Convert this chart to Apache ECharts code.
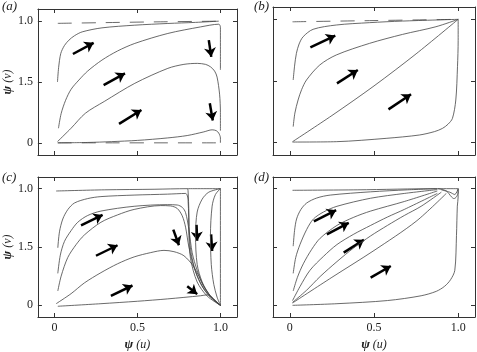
<!DOCTYPE html>
<html>
<head>
<meta charset="utf-8">
<script src="https://cdn.jsdelivr.net/npm/echarts@6/dist/echarts.min.js"></script>
<style>
  html, body { margin: 0; padding: 0; background: #fff; }
  #chart { width: 477px; height: 352px; }
</style>
</head>
<body>
<div id="chart"></div>
<script>
// tick positions and labels (the middle y label reads 1.5 in the source figure)
const tickValues = [0, 0.5, 1];
const xTickLabels = ['0', '0.5', '1.0'];
const yTickLabels = ['0', '1.5', '1.0'];
const panelNames = ['(a)', '(b)', '(c)', '(d)'];

// panel (a) trajectories, [psi(u), psi(v)]
const aTop = [[0.02, 0.982], [0.3, 0.988], [0.6, 0.994], [1.0, 1.0]];
const aBottom = [[0.02, 0.0], [1.0, 0.0]];
const a1 = [[0.018, 0.5], [0.025, 0.62], [0.038, 0.735], [0.06, 0.8], [0.087, 0.844], [0.12, 0.88], [0.167, 0.912], [0.286, 0.945], [0.484, 0.967], [0.683, 0.981], [0.85, 0.99], [0.99, 1.0]];
const a2 = [[0.024, 0.12], [0.04, 0.24], [0.067, 0.35], [0.1, 0.44], [0.147, 0.516], [0.2, 0.59], [0.286, 0.68], [0.38, 0.755], [0.484, 0.817], [0.683, 0.899], [0.881, 0.953], [0.99, 0.975], [1.0, 0.95], [1.0, 0.6]];
const a3 = [[0.018, 0.01], [0.1, 0.12], [0.186, 0.243], [0.3, 0.34], [0.484, 0.489], [0.683, 0.612], [0.78, 0.645], [0.861, 0.653], [0.91, 0.645], [0.94, 0.625], [0.965, 0.59], [0.98, 0.54], [0.995, 0.4], [1.0, 0.25], [1.0, 0.1]];
const a4 = [[0.02, 0.0], [0.2, 0.003], [0.345, 0.01], [0.5, 0.02], [0.68, 0.04], [0.8, 0.06], [0.9, 0.09], [0.95, 0.107], [0.975, 0.1], [0.99, 0.08], [1.0, 0.04], [1.0, 0.0]];
const aArrows = [
  [[0.111, 0.730], [0.236, 0.822]],
  [[0.296, 0.475], [0.425, 0.571]],
  [[0.389, 0.156], [0.524, 0.27]],
  [[0.930, 0.844], [0.945, 0.707]],
  [[0.936, 0.325], [0.954, 0.183]]
];

// panel (b)
const bTop = [[0.016, 0.98], [0.5, 0.99], [1.0, 1.0]];
const b1 = [[0.02, 0.508], [0.028, 0.62], [0.039, 0.724], [0.055, 0.8], [0.079, 0.859], [0.138, 0.919], [0.276, 0.954], [0.473, 0.973], [0.67, 0.986], [1.0, 1.0]];
const b2 = [[0.02, 0.13], [0.03, 0.24], [0.049, 0.346], [0.07, 0.43], [0.099, 0.508], [0.178, 0.63], [0.276, 0.711], [0.473, 0.805], [0.67, 0.878], [0.868, 0.94], [1.0, 1.0]];
const b3 = [[0.016, 0.008], [0.25, 0.22], [0.5, 0.46], [0.75, 0.72], [1.0, 1.0]];
const b4 = [[0.016, 0.005], [0.276, 0.008], [0.572, 0.035], [0.769, 0.062], [0.86, 0.09], [0.907, 0.116], [0.94, 0.15], [0.966, 0.197], [0.986, 0.346], [0.996, 0.616], [1.0, 0.83], [1.0, 1.0]];
const bArrows = [
  [[0.122, 0.773], [0.270, 0.868]],
  [[0.280, 0.481], [0.404, 0.589]],
  [[0.586, 0.270], [0.720, 0.392]]
];

// panel (c)
const cTop = [[0.01, 0.98], [0.3, 0.99], [0.6, 0.995], [0.8, 1.0], [0.805, 0.98], [0.81, 0.8], [0.815, 0.55], [0.83, 0.4], [0.86, 0.25], [0.9, 0.14], [0.95, 0.06], [1.0, 0.0]];
const c1 = [[0.02, 0.493], [0.03, 0.63], [0.05, 0.74], [0.08, 0.82], [0.12, 0.877], [0.2, 0.915], [0.28, 0.932], [0.48, 0.945], [0.68, 0.953], [0.79, 0.959], [0.805, 0.9], [0.81, 0.6], [0.82, 0.4], [0.86, 0.2], [0.92, 0.08], [1.0, 0.0]];
const c2 = [[0.02, 0.274], [0.035, 0.43], [0.06, 0.548], [0.1, 0.64], [0.14, 0.712], [0.2, 0.77], [0.28, 0.808], [0.48, 0.849], [0.68, 0.863], [0.74, 0.86], [0.77, 0.84], [0.79, 0.795], [0.81, 0.65], [0.83, 0.45], [0.86, 0.3], [0.9, 0.16], [0.95, 0.06], [1.0, 0.0]];
const c3 = [[0.02, 0.123], [0.04, 0.25], [0.08, 0.41], [0.13, 0.52], [0.18, 0.603], [0.28, 0.712], [0.38, 0.775], [0.48, 0.822], [0.64, 0.855], [0.7, 0.852], [0.74, 0.83], [0.77, 0.767], [0.79, 0.67], [0.81, 0.5], [0.84, 0.33], [0.88, 0.192], [0.92, 0.1], [0.96, 0.045], [1.0, 0.0]];
const c4 = [[0.01, 0.014], [0.1, 0.1], [0.18, 0.192], [0.28, 0.28], [0.38, 0.356], [0.48, 0.415], [0.58, 0.452], [0.66, 0.471], [0.72, 0.46], [0.78, 0.425], [0.84, 0.329], [0.9, 0.164], [0.94, 0.08], [1.0, 0.0]];
const c5 = [[0.02, -0.008], [0.28, 0.014], [0.5, 0.035], [0.68, 0.055], [0.88, 0.082], [0.92, 0.09], [0.96, 0.05], [1.0, 0.0]];
const c6 = [[0.8, 1.0], [1.0, 1.0]];
const c7 = [[1.0, 1.0], [0.93, 0.97], [0.89, 0.91], [0.86, 0.8], [0.85, 0.6], [0.86, 0.35], [0.89, 0.2], [0.93, 0.1], [0.97, 0.04], [1.0, 0.0]];
const c8 = [[1.0, 1.0], [0.97, 0.95], [0.95, 0.85], [0.94, 0.6], [0.945, 0.35], [0.96, 0.18], [0.98, 0.07], [1.0, 0.0]];
const c9 = [[1.0, 1.0], [1.0, 0.0]];
const cArrows = [
  [[0.16, 0.685], [0.29, 0.775]],
  [[0.25, 0.425], [0.38, 0.515]],
  [[0.34, 0.082], [0.47, 0.170]],
  [[0.716, 0.649], [0.75, 0.515]],
  [[0.856, 0.69], [0.86, 0.553]],
  [[0.944, 0.608], [0.95, 0.466]],
  [[0.8, 0.164], [0.86, 0.096]]
];

// panel (d)
const dTop = [[0.016, 0.986], [0.4, 0.99], [0.876, 1.0], [1.0, 1.0]];
const d1 = [[0.02, 0.507], [0.028, 0.64], [0.04, 0.74], [0.065, 0.82], [0.1, 0.877], [0.16, 0.92], [0.24, 0.945], [0.48, 0.973], [0.7, 0.99], [0.876, 1.0]];
const d2 = [[0.02, 0.274], [0.035, 0.41], [0.06, 0.52], [0.1, 0.65], [0.14, 0.74], [0.2, 0.8], [0.28, 0.849], [0.48, 0.918], [0.68, 0.959], [0.876, 0.992]];
const d3 = [[0.02, 0.123], [0.045, 0.24], [0.08, 0.356], [0.13, 0.48], [0.18, 0.575], [0.28, 0.685], [0.38, 0.755], [0.48, 0.808], [0.68, 0.89], [0.876, 0.98]];
const d4 = [[0.016, 0.04], [0.06, 0.16], [0.12, 0.301], [0.2, 0.42], [0.28, 0.521], [0.38, 0.61], [0.48, 0.685], [0.58, 0.757], [0.68, 0.822], [0.876, 0.959]];
const d5 = [[0.016, 0.025], [0.1, 0.13], [0.18, 0.247], [0.28, 0.375], [0.38, 0.493], [0.48, 0.595], [0.58, 0.685], [0.68, 0.77], [0.78, 0.849], [0.9, 0.97]];
const d6 = [[0.016, 0.02], [0.25, 0.24], [0.5, 0.47], [0.75, 0.72], [0.93, 0.96]];
const d7 = [[0.016, 0.0], [0.28, 0.014], [0.58, 0.041], [0.78, 0.082], [0.87, 0.12], [0.92, 0.164], [0.955, 0.22], [0.98, 0.3], [0.99, 0.6], [0.995, 0.85], [1.0, 0.93], [1.0, 1.0]];
const d8 = [[0.88, 1.0], [0.93, 0.98], [0.96, 0.93], [0.975, 0.915], [0.99, 0.93], [1.0, 0.97], [1.0, 1.0]];
const d9 = [[0.9, 0.99], [0.95, 0.97], [0.98, 0.95], [1.0, 1.0]];
const dArrows = [
  [[0.143, 0.72], [0.275, 0.816]],
  [[0.22, 0.608], [0.35, 0.707]],
  [[0.32, 0.452], [0.44, 0.562]],
  [[0.48, 0.238], [0.6, 0.337]]
];

const panels = [
  { solid: [a1, a2, a3, a4], dashed: [aTop, aBottom], arrows: aArrows },
  { solid: [b1, b2, b3, b4], dashed: [bTop], arrows: bArrows },
  { solid: [c1, c2, c3, c4, c5, c6, c7, c8, c9, cTop], dashed: [], arrows: cArrows },
  { solid: [d1, d2, d3, d4, d5, d6, d7, d8, d9, dTop], dashed: [], arrows: dArrows }
];

const grids = [
  { left: 36, top: 9, width: 201, height: 146 },
  { left: 273, top: 7, width: 202, height: 148 },
  { left: 36, top: 177, width: 201, height: 145 },
  { left: 273, top: 177, width: 202, height: 145 }
];

const serif = 'Liberation Serif';
const ink = '#222';
const curveColor = '#444';

const nameRich = {
  p: { fontFamily: serif, fontSize: 13, fontStyle: 'italic', fontWeight: 'bold', color: ink },
  t: { fontFamily: serif, fontSize: 12, fontStyle: 'italic', color: ink }
};

function makeAxis(kind, i, position, withLabels, name) {
  const axis = {
    type: 'value',
    gridIndex: i,
    position: position,
    min: -0.1,
    max: 1.1,
    axisLine: { show: true, onZero: false, lineStyle: { color: '#333', width: 1 } },
    axisTick: { show: true, inside: true, length: 4, customValues: tickValues, lineStyle: { color: '#333', width: 1 } },
    axisLabel: {
      show: withLabels,
      customValues: tickValues,
      margin: 5,
      fontFamily: serif,
      fontSize: 12,
      color: ink,
      formatter: function (v) {
        const k = tickValues.indexOf(v);
        return kind === 'x' ? xTickLabels[k] : yTickLabels[k];
      }
    },
    splitLine: { show: false }
  };
  if (name) {
    axis.name = name;
    axis.nameLocation = 'middle';
    axis.nameGap = kind === 'x' ? 21 : 22;
    axis.nameTextStyle = { rich: nameRich };
  }
  return axis;
}

const xAxes = [];
const yAxes = [];
const series = [];

panels.forEach(function (p, i) {
  const bottomRow = i >= 2;
  const leftCol = i % 2 === 0;
  xAxes.push(makeAxis('x', i, 'bottom', bottomRow, bottomRow ? '{p|ψ}{t| (u)}' : null));
  xAxes.push(makeAxis('x', i, 'top', false, null));
  yAxes.push(makeAxis('y', i, 'left', leftCol, leftCol ? '{p|ψ}{t| (v)}' : null));
  yAxes.push(makeAxis('y', i, 'right', false, null));

  p.solid.forEach(function (c) {
    series.push({
      type: 'line', xAxisIndex: 2 * i, yAxisIndex: 2 * i, data: c,
      showSymbol: false, smooth: 0.3, silent: true,
      lineStyle: { width: 0.8, color: curveColor }
    });
  });
  p.dashed.forEach(function (c) {
    series.push({
      type: 'line', xAxisIndex: 2 * i, yAxisIndex: 2 * i, data: c,
      showSymbol: false, smooth: 0.3, silent: true,
      lineStyle: { width: 0.8, color: curveColor, type: [14, 10] }
    });
  });
  series.push({
    type: 'lines', coordinateSystem: 'cartesian2d', xAxisIndex: 2 * i, yAxisIndex: 2 * i,
    symbol: ['none', 'arrow'], symbolSize: 9, silent: true,
    lineStyle: { width: 2.5, color: '#000', opacity: 1 },
    data: p.arrows.map(function (a) { return { coords: a }; })
  });
});

const labelPos = [
  { left: 2, top: 0 },
  { left: 254, top: 0 },
  { left: 2, top: 171 },
  { left: 254, top: 171 }
];

const chart = echarts.init(document.getElementById('chart'));
chart.setOption({
  backgroundColor: '#fff',
  animation: false,
  grid: grids,
  xAxis: xAxes,
  yAxis: yAxes,
  series: series,
  graphic: panelNames.map(function (t, i) {
    return {
      type: 'text', left: labelPos[i].left, top: labelPos[i].top,
      style: { text: t, font: 'italic 13px "Liberation Serif"', fill: ink }
    };
  })
});
</script>
</body>
</html>
